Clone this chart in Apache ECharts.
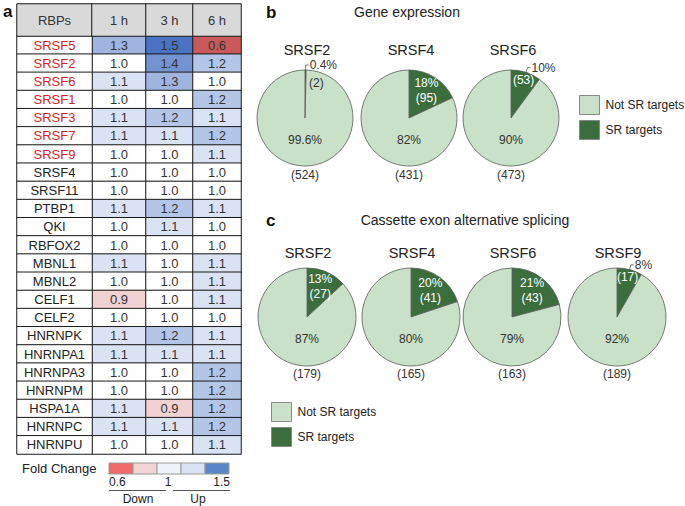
<!DOCTYPE html>
<html>
<head>
<meta charset="utf-8">
<script src="https://cdn.jsdelivr.net/npm/echarts@6/dist/echarts.min.js"></script>
<style>
  html, body { margin: 0; padding: 0; background: #fff; }
  #chart { width: 685px; height: 506px; }
</style>
</head>
<body>
<div id="chart"></div>
<script>
// panel a: fold change of RBPs
const rbps = ['SRSF5', 'SRSF2', 'SRSF6', 'SRSF1', 'SRSF3', 'SRSF7', 'SRSF9', 'SRSF4', 'SRSF11', 'PTBP1',
  'QKI', 'RBFOX2', 'MBNL1', 'MBNL2', 'CELF1', 'CELF2', 'HNRNPK', 'HNRNPA1', 'HNRNPA3', 'HNRNPM',
  'HSPA1A', 'HNRNPC', 'HNRNPU']
const redRbps = ['SRSF5', 'SRSF2', 'SRSF6', 'SRSF1', 'SRSF3', 'SRSF7', 'SRSF9']
const timePoints = ['1 h', '3 h', '6 h']
const fold1h = [1.3, 1.0, 1.1, 1.0, 1.1, 1.1, 1.0, 1.0, 1.0, 1.1, 1.0, 1.0, 1.1, 1.0, 0.9, 1.0, 1.1, 1.1, 1.0, 1.0, 1.1, 1.1, 1.0]
const fold3h = [1.5, 1.4, 1.3, 1.0, 1.2, 1.1, 1.0, 1.0, 1.0, 1.2, 1.1, 1.0, 1.0, 1.0, 1.0, 1.0, 1.2, 1.1, 1.0, 1.0, 0.9, 1.1, 1.0]
const fold6h = [0.6, 1.2, 1.0, 1.2, 1.1, 1.2, 1.1, 1.0, 1.0, 1.1, 1.0, 1.0, 1.1, 1.1, 1.1, 1.0, 1.1, 1.1, 1.2, 1.2, 1.2, 1.2, 1.1]
const foldTicks = ['0.6', '1', '1.5']
const foldLegendColors = ['#f26a6c', '#f0d3d5', '#eef3fa', '#d9e2f3', '#5a86c8']

// panel b: gene expression
const geneNames = ['SRSF2', 'SRSF4', 'SRSF6']
const geneTargets = [2, 95, 53]
const geneOthers = [524, 431, 473]

// panel c: cassette exon alternative splicing
const spliceNames = ['SRSF2', 'SRSF4', 'SRSF6', 'SRSF9']
const spliceTargets = [27, 41, 43, 17]
const spliceOthers = [179, 165, 163, 189]

const pieLegend = ['Not SR targets', 'SR targets']

const FONT = 'Liberation Sans, Arial, sans-serif'
const darkGreen = '#3c6e3d'
const lightGreen = '#c8e1c8'
const red = '#d41f22'

// layout
const colEdges = [17, 92, 146, 193, 241]
const geneCenters = [[305, 118], [409, 118], [511, 118]]
const spliceCenters = [[307, 317], [411, 317], [512, 317], [617, 317]]

function percents (t, o) {
  const p = t / (t + o) * 100
  const d = p < 1 ? 1 : 0
  const a = p.toFixed(d)
  const b = (100 - Number(a)).toFixed(d)
  return [a, b]
}

function pieSeries (name, t, o, center, r) {
  const [pt, po] = percents(t, o)
  const small = Number(pt) < 12
  const thin = Number(pt) < 1
  const list = [{
    type: 'pie',
    name: name,
    center: center,
    radius: r,
    startAngle: 90,
    clockwise: true,
    silent: true,
    avoidLabelOverlap: false,
    minShowLabelAngle: 0,
    itemStyle: { borderColor: '#5a5a5a', borderWidth: 0.8 },
    label: { show: true, position: 'inside', fontSize: 12, lineHeight: 15 },
    labelLine: { show: false },
    labelLayout: function (p) {
      if (p.dataIndex === 1) {
        return { x: center[0], y: center[1] + 39.5, align: 'center', verticalAlign: 'middle', hideOverlap: false }
      }
      if (thin) {
        return { x: center[0] + 4, y: center[1] - 35, align: 'left', verticalAlign: 'middle', hideOverlap: false }
      }
      const lx = p.labelRect.x + p.labelRect.width / 2
      const ly = p.labelRect.y + p.labelRect.height / 2
      const k = small ? 1.5 : 1.2
      return {
        x: center[0] + (lx - center[0]) * k,
        y: center[1] + (ly - center[1]) * k,
        align: 'center',
        verticalAlign: 'middle',
        hideOverlap: false
      }
    },
    data: [
      {
        name: 'SR targets',
        value: t,
        itemStyle: { color: darkGreen },
        label: {
          color: thin ? '#333' : '#fff',
          formatter: small ? '(' + t + ')' : pt + '%\n(' + t + ')'
        }
      },
      {
        name: 'Not SR targets',
        value: o,
        itemStyle: { color: lightGreen },
        label: {
          color: '#333',
          lineHeight: 17.5,
          formatter: po + '%\n\n(' + o + ')'
        }
      }
    ]
  }]
  if (small) {
    // percent of a thin slice sits outside with a leader line
    list.push({
      type: 'pie',
      center: center,
      radius: r,
      startAngle: 90,
      clockwise: true,
      silent: true,
      legendHoverLink: false,
      avoidLabelOverlap: false,
      minShowLabelAngle: 0,
      itemStyle: { color: 'rgba(0,0,0,0)' },
      data: [
        {
          name: 'SR targets',
          value: t,
          label: { show: true, position: 'outside', color: '#333', fontSize: 12, formatter: pt + '%', distanceToLabelLine: 1 },
          labelLine: { show: true, length: 5, length2: 3, lineStyle: { color: '#555', width: 0.8 } }
        },
        { name: 'Not SR targets', value: o, label: { show: false }, labelLine: { show: false } }
      ]
    })
  }
  return list
}

const cellBorder = { borderColor: '#1a1a1a', borderWidth: 1 }
const cellLabel = { show: true, fontSize: 13, color: '#333', fontFamily: FONT }
const headers = ['RBPs'].concat(timePoints)
const cols = [fold1h, fold3h, fold6h]

// one grid per table column (body + header), columns have their own widths
const grids = []
const xAxes = []
const yAxes = []
headers.forEach((h, k) => {
  const left = colEdges[k]
  const width = colEdges[k + 1] - colEdges[k]
  grids.push({ left: left, top: 36, width: width, height: 418 })
  xAxes.push({ gridIndex: 2 * k, type: 'category', data: [h], show: false })
  yAxes.push({ gridIndex: 2 * k, type: 'category', data: rbps, inverse: true, show: false })
  grids.push({ left: left, top: 4, width: width, height: 32 })
  xAxes.push({ gridIndex: 2 * k + 1, type: 'category', data: [h], show: false })
  yAxes.push({ gridIndex: 2 * k + 1, type: 'category', data: ['h'], show: false })
})

let series = []
// value columns first (visualMap uses series 0..2)
cols.forEach((c, j) => {
  const k = j + 1
  series.push({
    type: 'heatmap',
    xAxisIndex: 2 * k,
    yAxisIndex: 2 * k,
    data: c.map((v, i) => [0, i, v]),
    silent: true,
    itemStyle: cellBorder,
    label: Object.assign({}, cellLabel, { formatter: p => p.value[2].toFixed(1) })
  })
})
series.push({
  type: 'heatmap',
  xAxisIndex: 0,
  yAxisIndex: 0,
  silent: true,
  itemStyle: Object.assign({ color: '#fff' }, cellBorder),
  label: Object.assign({}, cellLabel, { formatter: p => rbps[p.value[1]] }),
  data: rbps.map((n, i) => ({ value: [0, i, 1], label: { color: redRbps.includes(n) ? red : '#222' } }))
})
headers.forEach((h, k) => {
  series.push({
    type: 'heatmap',
    xAxisIndex: 2 * k + 1,
    yAxisIndex: 2 * k + 1,
    silent: true,
    itemStyle: Object.assign({ color: '#d9d9d9' }, cellBorder),
    label: Object.assign({}, cellLabel, { formatter: h }),
    data: [[0, 0, 1]]
  })
})

geneNames.forEach((n, i) => {
  series = series.concat(pieSeries('b ' + n, geneTargets[i], geneOthers[i], geneCenters[i], 48))
})
spliceNames.forEach((n, i) => {
  series = series.concat(pieSeries('c ' + n, spliceTargets[i], spliceOthers[i], spliceCenters[i], 49))
})

function txt (text, x, y, opt) {
  return {
    type: 'text',
    x: x,
    y: y,
    silent: true,
    style: Object.assign({
      text: text,
      fontFamily: FONT,
      fontSize: 12,
      fill: '#222',
      align: 'center',
      verticalAlign: 'middle'
    }, opt || {})
  }
}

const graphics = [
  txt('a', 3, 11, { fontSize: 17, fontWeight: 'bold', align: 'left', fill: '#111' }),
  txt('b', 266, 12, { fontSize: 17, fontWeight: 'bold', align: 'left', fill: '#111' }),
  txt('c', 266, 220, { fontSize: 17, fontWeight: 'bold', align: 'left', fill: '#111' }),
  txt('Gene expression', 407, 12, { fontSize: 14 }),
  txt('Cassette exon alternative splicing', 465, 220, { fontSize: 14 }),
  txt('Fold Change', 22, 468, { fontSize: 13, align: 'left' })
]
geneNames.forEach((n, i) => graphics.push(txt(n, geneCenters[i][0] + 2, 50, { fontSize: 14.5 })))
spliceNames.forEach((n, i) => graphics.push(txt(n, spliceCenters[i][0] + 1, 253, { fontSize: 14.5 })))
foldLegendColors.forEach((c, i) => {
  graphics.push({
    type: 'rect',
    silent: true,
    shape: { x: 109 + i * 24, y: 463, width: 24, height: 11 },
    style: { fill: c, stroke: '#9a9a9a', lineWidth: 1 }
  })
})
graphics.push(txt(foldTicks[0], 109, 482, { align: 'left' }))
graphics.push(txt(foldTicks[1], 168, 482))
graphics.push(txt(foldTicks[2], 230, 482, { align: 'right' }))
graphics.push({ type: 'line', silent: true, shape: { x1: 109, y1: 490.5, x2: 166, y2: 490.5 }, style: { stroke: '#555', lineWidth: 1 } })
graphics.push({ type: 'line', silent: true, shape: { x1: 173, y1: 490.5, x2: 230, y2: 490.5 }, style: { stroke: '#555', lineWidth: 1 } })
graphics.push(txt('Down', 138, 499))
graphics.push(txt('Up', 198, 499))

const legendBase = {
  orient: 'vertical',
  padding: 0,
  itemWidth: 20,
  itemHeight: 19,
  itemGap: 5,
  icon: 'rect',
  selectedMode: false,
  data: pieLegend,
  itemStyle: { borderColor: '#888', borderWidth: 1 },
  textStyle: { fontSize: 12, color: '#222', fontFamily: FONT, padding: [0, 0, 0, 1] }
}

const option = {
  animation: false,
  backgroundColor: '#fff',
  textStyle: { fontFamily: FONT },
  grid: grids,
  xAxis: xAxes,
  yAxis: yAxes,
  visualMap: {
    type: 'piecewise',
    show: false,
    seriesIndex: [0, 1, 2],
    dimension: 2,
    pieces: [
      { lt: 0.75, color: '#c9595b' },
      { gte: 0.75, lt: 0.95, color: '#f1d2d3' },
      { gte: 0.95, lt: 1.05, color: '#ffffff' },
      { gte: 1.05, lt: 1.15, color: '#dae3f3' },
      { gte: 1.15, lt: 1.25, color: '#b4c6e7' },
      { gte: 1.25, lt: 1.35, color: '#9fb5e0' },
      { gte: 1.35, lt: 1.45, color: '#7394d1' },
      { gte: 1.45, color: '#4a74c3' }
    ]
  },
  legend: [
    Object.assign({ left: 579, top: 95 }, legendBase),
    Object.assign({ left: 271, top: 402 }, legendBase)
  ],
  graphic: graphics,
  series: series
}

const chart = echarts.init(document.getElementById('chart'), null, { renderer: 'svg' })
chart.setOption(option)
</script>
</body>
</html>
